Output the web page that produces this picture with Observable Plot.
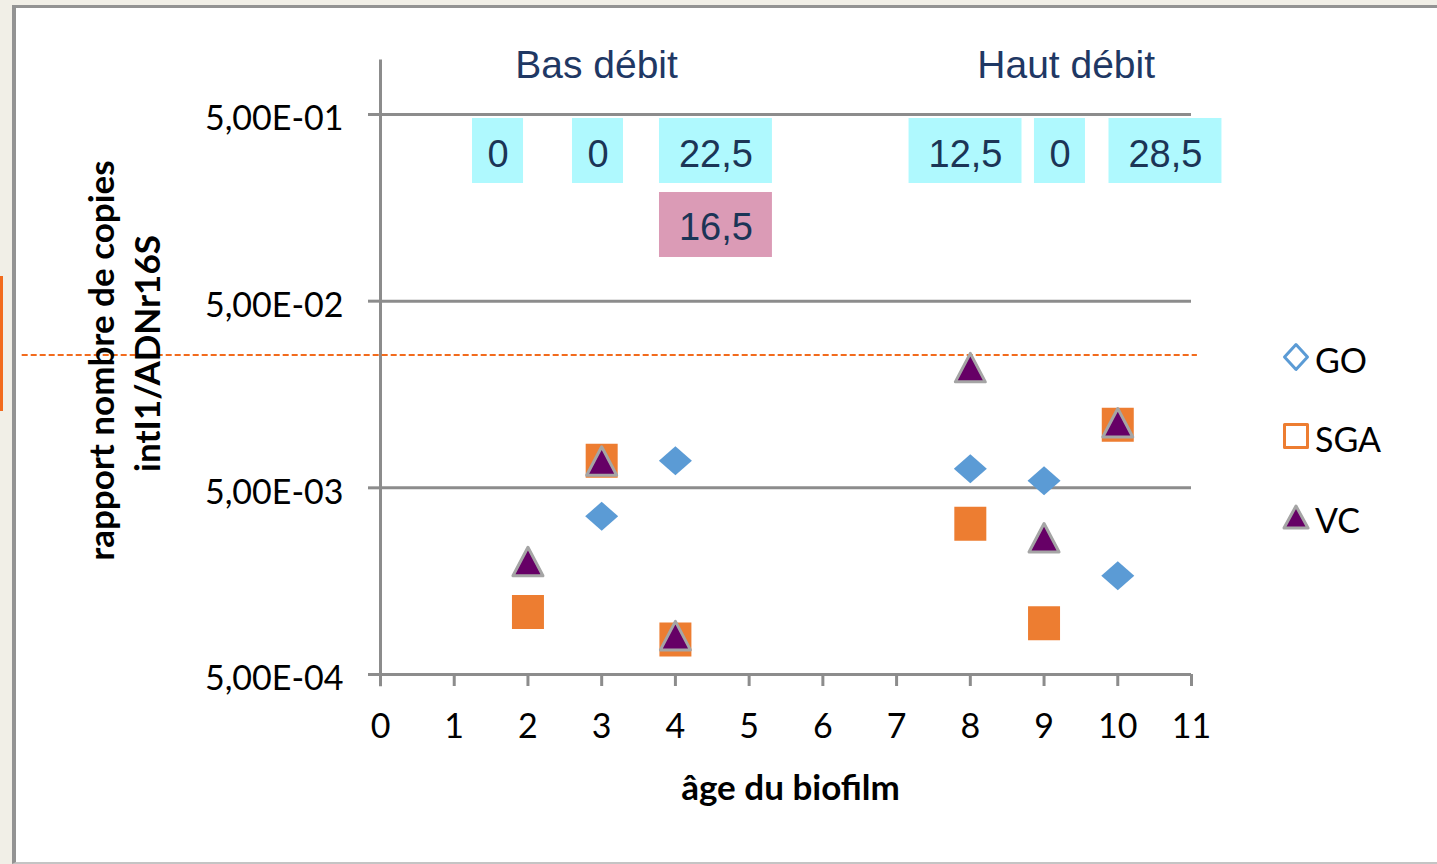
<!DOCTYPE html>
<html><head><meta charset="utf-8">
<script src="https://cdn.jsdelivr.net/npm/d3@7"></script>
<script src="https://cdn.jsdelivr.net/npm/@observablehq/plot@0.6"></script>
<style>
html,body{margin:0;padding:0;overflow:hidden;background:#F1EFE7;width:1437px;height:864px;}
#frame{position:absolute;left:12px;top:5px;width:1440px;height:854px;background:#fff;border-left:4px solid #939393;border-top:3px solid #939393;border-bottom:2px solid #C4C4C4;}
#bar{position:absolute;left:0;top:276px;width:3px;height:135px;background:#F26B1D;}
#chart{position:absolute;left:0;top:0;}
#legend{position:absolute;left:1280px;top:330px;}
</style></head><body>
<div id="frame"></div><div id="bar"></div><div id="chart"></div><div id="legend"></div>
<script>
// ---- data ----
const seriesNames = ["GO", "SGA", "VC"];
const goAges = [3, 4, 8, 9, 10];
const goValues = [3.52e-3, 6.98e-3, 6.32e-3, 5.45e-3, 1.69e-3];
const sgaAges = [2, 3, 4, 8, 9, 10];
const sgaValues = [1.08e-3, 6.98e-3, 7.7e-4, 3.21e-3, 9.4e-4, 1.09e-2];
const vcAges = [2, 3, 4, 8, 9, 10];
const vcValues = [2.02e-3, 6.98e-3, 8.1e-4, 2.21e-2, 2.71e-3, 1.12e-2];
const thresholdValue = 2.57e-2;

const xTicks = [0,1,2,3,4,5,6,7,8,9,10,11];
const xTickLabels = ["0","1","2","3","4","5","6","7","8","9","10","11"];
const yTicks = [5e-4, 5e-3, 5e-2, 5e-1];
const yTickLabels = ["5,00E-04", "5,00E-03", "5,00E-02", "5,00E-01"];

const flowLabels = ["Bas débit", "Haut débit"];
const flowX = [2.93, 9.30];

const annotLabels = ["0", "0", "22,5", "16,5", "12,5", "0", "28,5"];
const annotX = [1.594, 2.95, 4.55, 4.55, 7.935, 9.216, 10.647];
const annotRow = [0, 0, 0, 1, 0, 0, 0];

const xTitle = "âge du biofilm";
const yTitleLines = ["rapport nombre de copies", "intI1/ADNr16S"];

// ---- build tables ----
const pts = [
  ...goAges.map((a, i) => ({series: "GO", age: a, v: goValues[i]})),
  ...sgaAges.map((a, i) => ({series: "SGA", age: a, v: sgaValues[i]})),
  ...vcAges.map((a, i) => ({series: "VC", age: a, v: vcValues[i]}))
];
const annots = annotLabels.map((t, i) => ({text: t, x: annotX[i], row: annotRow[i]}));
const flows = flowLabels.map((t, i) => ({text: t, x: flowX[i]}));
const yTickRows = yTicks.map((v, i) => ({v, label: yTickLabels[i]}));

// ---- styling ----
const rowBand = [[0.2135, 0.476], [0.0857, 0.191]];
const rowTextY = [0.305, 0.1233];
const rowFill = ["#AFF9FE", "#DB9BB6"];
const halfW = t => t.length > 1 ? 0.766 : 0.346;
const gridColor = "#8C8C8C";

const diamondSym = {draw(c){ c.moveTo(0,-14.5); c.lineTo(16.5,0); c.lineTo(0,14.5); c.lineTo(-16.5,0); c.closePath(); }};
const squareSym = {draw(c){ c.rect(-16,-17,32,34); }};
const triSym = {draw(c){ c.moveTo(0,-14); c.lineTo(15,14.5); c.lineTo(-15,14.5); c.closePath(); }};

const chart = Plot.plot({
  width: 1437, height: 864,
  marginLeft: 380, marginRight: 246, marginTop: 114, marginBottom: 190,
  style: {fontFamily: "Lato, sans-serif", background: "transparent", overflow: "visible"},
  x: {domain: [0, 11]},
  y: {type: "log", domain: [5e-4, 5e-1]},
  marks: [
    Plot.gridY(yTicks, {stroke: gridColor, strokeOpacity: 1, strokeWidth: 3}),
    Plot.ruleX([0], {y1: 4.3e-4, y2: 0.98, stroke: gridColor, strokeWidth: 3}),
    Plot.axisX({ticks: xTicks, tickSize: 12, tickPadding: 27, tickFormat: d => xTickLabels[xTicks.indexOf(d)],
      stroke: gridColor, strokeWidth: 3, fill: "#000", fontSize: 34, label: null}),
    Plot.axisY({ticks: yTicks, tickSize: 12, tickFormat: () => "", stroke: gridColor, strokeWidth: 3, label: null}),
    Plot.text(yTickRows, {frameAnchor: "left", y: "v", text: "label", textAnchor: "end", lineAnchor: "middle",
      dx: -37, dy: 5, fill: "#000", fontSize: 34}),
    Plot.ruleY([thresholdValue], {x1: -4.86, x2: 11.08, stroke: "#F26B1D", strokeWidth: 2, strokeDasharray: "6,3"}),
    Plot.rect(annots, {x1: d => d.x - halfW(d.text), x2: d => d.x + halfW(d.text),
      y1: d => rowBand[d.row][0], y2: d => rowBand[d.row][1], fill: d => rowFill[d.row]}),
    Plot.text(annots, {x: "x", y: d => rowTextY[d.row], text: "text", fontSize: 38,
      fontFamily: "Liberation Sans, Arial, sans-serif", fill: "#1B3556"}),
    Plot.text(flows, {x: "x", y: () => 0.91, text: "text", fontSize: 39,
      fontFamily: "Liberation Sans, Arial, sans-serif", fill: "#1F3864"}),
    Plot.dot(pts.filter(d => d.series === "GO"), {x: "age", y: "v", symbol: diamondSym, fill: "#5B9BD5", r: 10}),
    Plot.dot(pts.filter(d => d.series === "SGA"), {x: "age", y: "v", symbol: squareSym, fill: "#ED7D31", r: 10}),
    Plot.dot(pts.filter(d => d.series === "VC"), {x: "age", y: "v", symbol: triSym, fill: "#660066",
      stroke: "#A5A5A5", strokeWidth: 3, strokeLinejoin: "round", r: 10}),
    Plot.text([xTitle], {frameAnchor: "bottom", text: d => d, textAnchor: "middle", lineAnchor: "middle",
      dx: 790 - (380 + 1191) / 2, dy: 788 - 674, fontSize: 35, fontWeight: "bold", fill: "#000"}),
    Plot.text([yTitleLines[0]], {frameAnchor: "left", text: d => d, textAnchor: "middle", lineAnchor: "middle",
      dx: 102 - 380, dy: 360 - 394, rotate: -90, fontSize: 35, fontWeight: "bold", fill: "#000"}),
    Plot.text([yTitleLines[1]], {frameAnchor: "left", text: d => d, textAnchor: "middle", lineAnchor: "middle",
      dx: 148 - 380, dy: 353 - 394, rotate: -90, fontSize: 35, fontWeight: "bold", fill: "#000"})
  ]
});
document.getElementById("chart").appendChild(chart);

// ---- legend ----
const legendCfg = [
  {name: seriesNames[0], path: "M0,-12.5L11.5,0L0,12.5L-11.5,0Z", fill: "none", stroke: "#5B9BD5", sw: 3, cy: 27},
  {name: seriesNames[1], path: "M-11.5,-11.5H11.5V11.5H-11.5Z", fill: "none", stroke: "#ED7D31", sw: 3, cy: 106},
  {name: seriesNames[2], path: "M0,-11L12,11L-12,11Z", fill: "#660066", stroke: "#A5A5A5", sw: 3, cy: 187}
];
const lsvg = d3.select("#legend").append("svg").attr("width", 157).attr("height", 220);
legendCfg.forEach(l => {
  lsvg.append("path").attr("d", l.path).attr("transform", `translate(16,${l.cy})`)
    .attr("fill", l.fill).attr("stroke", l.stroke).attr("stroke-width", l.sw).attr("stroke-linejoin", "round");
  lsvg.append("text").attr("x", 35).attr("y", l.cy + 2).attr("dominant-baseline", "central")
    .attr("font-family", "Lato, sans-serif").attr("font-size", 34).attr("fill", "#000").text(l.name);
});
</script></body></html>
